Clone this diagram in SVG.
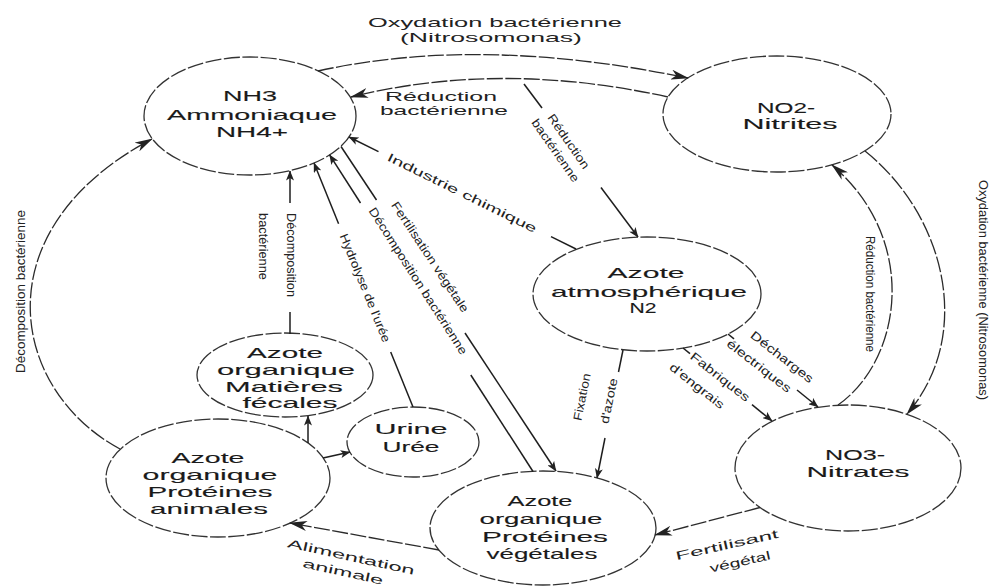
<svg xmlns="http://www.w3.org/2000/svg" width="993" height="586" viewBox="0 0 993 586">
<style>
.nd{fill:#fff;stroke:#333;stroke-width:1.3;stroke-dasharray:16 2.5}
.cv{fill:none;stroke:#2b2b2b;stroke-width:1.3;stroke-dasharray:16 2.5}
.ln{fill:none;stroke:#1e1e1e;stroke-width:1.5}
.nt{font-family:"Liberation Sans",Arial,sans-serif;font-size:15px;fill:#1a1a1a;text-anchor:middle;stroke:#1a1a1a;stroke-width:0.12}
.lb{font-family:"Liberation Sans",Arial,sans-serif;font-size:12px;fill:#222;text-anchor:middle}
.lt{font-family:"Liberation Sans",Arial,sans-serif;font-size:13px;fill:#222;text-anchor:middle}
.ls{font-family:"Liberation Sans",Arial,sans-serif;font-size:12px;fill:#222;text-anchor:start}
</style>
<defs>
<marker id="big" viewBox="0 0 18 10" refX="17" refY="5" markerWidth="18" markerHeight="10" orient="auto" markerUnits="userSpaceOnUse"><path d="M0,0 L18,5 L0,10 L5,5 z" fill="#222"/></marker>
<marker id="sm" viewBox="0 0 10 8" refX="9.5" refY="4" markerWidth="10" markerHeight="8" orient="auto" markerUnits="userSpaceOnUse"><path d="M0,0 L10,4 L0,8 L2.5,4 z" fill="#222"/></marker>
</defs>
<rect width="993" height="586" fill="#fff"/>

<g id="nodes">
<g id="n-nh3"><ellipse class="nd" cx="250" cy="116" rx="106" ry="59"/>
<text class="nt" x="250" y="101" textLength="54" lengthAdjust="spacingAndGlyphs">NH3</text>
<text class="nt" x="252" y="120" textLength="170" lengthAdjust="spacingAndGlyphs">Ammoniaque</text>
<text class="nt" x="252" y="137" textLength="72" lengthAdjust="spacingAndGlyphs">NH4+</text></g>
<g id="n-no2"><ellipse class="nd" cx="777" cy="114" rx="114" ry="58"/>
<text class="nt" x="786" y="113" textLength="58" lengthAdjust="spacingAndGlyphs">NO2-</text>
<text class="nt" x="790" y="129" textLength="95" lengthAdjust="spacingAndGlyphs">Nitrites</text></g>
<g id="n-n2"><ellipse class="nd" cx="647" cy="294" rx="114" ry="57"/>
<text class="nt" x="646" y="278" textLength="77" lengthAdjust="spacingAndGlyphs">Azote</text>
<text class="nt" x="649" y="297" textLength="196" lengthAdjust="spacingAndGlyphs">atmosphérique</text>
<text class="nt" x="643" y="313" textLength="27" lengthAdjust="spacingAndGlyphs">N2</text></g>
<g id="n-no3"><ellipse class="nd" cx="848" cy="468" rx="113" ry="63"/>
<text class="nt" x="855" y="460" textLength="60" lengthAdjust="spacingAndGlyphs">NO3-</text>
<text class="nt" x="858" y="477" textLength="103" lengthAdjust="spacingAndGlyphs">Nitrates</text></g>
<g id="n-veg"><ellipse class="nd" cx="543" cy="528" rx="113" ry="57"/>
<text class="nt" x="540" y="506" textLength="65" lengthAdjust="spacingAndGlyphs">Azote</text>
<text class="nt" x="541" y="524" textLength="123" lengthAdjust="spacingAndGlyphs">organique</text>
<text class="nt" x="545" y="542" textLength="126" lengthAdjust="spacingAndGlyphs">Protéines</text>
<text class="nt" x="542" y="559" textLength="111" lengthAdjust="spacingAndGlyphs">végétales</text></g>
<g id="n-ani"><ellipse class="nd" cx="218" cy="478" rx="112" ry="59"/>
<text class="nt" x="208" y="463" textLength="73" lengthAdjust="spacingAndGlyphs">Azote</text>
<text class="nt" x="210" y="480" textLength="135" lengthAdjust="spacingAndGlyphs">organique</text>
<text class="nt" x="210" y="497" textLength="125" lengthAdjust="spacingAndGlyphs">Protéines</text>
<text class="nt" x="209" y="514" textLength="118" lengthAdjust="spacingAndGlyphs">animales</text></g>
<g id="n-fec"><ellipse class="nd" cx="285" cy="375" rx="88" ry="42"/>
<text class="nt" x="285" y="358" textLength="76" lengthAdjust="spacingAndGlyphs">Azote</text>
<text class="nt" x="286" y="375" textLength="138" lengthAdjust="spacingAndGlyphs">organique</text>
<text class="nt" x="284" y="392" textLength="118" lengthAdjust="spacingAndGlyphs">Matières</text>
<text class="nt" x="290" y="408" textLength="95" lengthAdjust="spacingAndGlyphs">fécales</text></g>
<g id="n-uri"><ellipse class="nd" cx="413" cy="442" rx="66" ry="35"/>
<text class="nt" x="411" y="434" textLength="73" lengthAdjust="spacingAndGlyphs">Urine</text>
<text class="nt" x="411" y="452" textLength="57" lengthAdjust="spacingAndGlyphs">Urée</text></g>
</g>

<g id="connectors">
<path id="c-ox-top" class="cv" d="M318,71 Q480,35 688,78" marker-end="url(#big)"/>
<path id="c-red-top" class="cv" d="M668,97 Q500,60 351,97" marker-end="url(#big)"/>
<g id="c-red-diag"><line class="ln" x1="524" y1="84" x2="542" y2="108"/><line class="ln" x1="601" y1="187.5" x2="638" y2="237" marker-end="url(#sm)"/></g>
<g id="c-industrie"><line class="ln" x1="576" y1="249" x2="551" y2="236.7"/><line class="ln" x1="378.5" y1="151.6" x2="349" y2="137" marker-end="url(#sm)"/></g>
<g id="c-decomp-fec"><line class="ln" x1="290" y1="334" x2="290" y2="312"/><line class="ln" x1="290" y1="203" x2="290" y2="171" marker-end="url(#sm)"/></g>
<g id="c-hydrolyse"><line class="ln" x1="413" y1="407" x2="390.7" y2="352"/><line class="ln" x1="338.6" y1="223.8" x2="314" y2="163" marker-end="url(#sm)"/></g>
<g id="c-fertil-veg"><line class="ln" x1="341" y1="146.5" x2="376.5" y2="200"/><line class="ln" x1="465" y1="333" x2="556" y2="471" marker-end="url(#sm)"/></g>
<g id="c-decomp-veg"><line class="ln" x1="533" y1="471.5" x2="470.8" y2="375"/><line class="ln" x1="360.5" y1="203" x2="329.6" y2="154.8" marker-end="url(#sm)"/></g>
<g id="c-fixation"><line class="ln" x1="623" y1="350" x2="618.5" y2="372"/><line class="ln" x1="605" y1="438" x2="597" y2="478" marker-end="url(#sm)"/></g>
<g id="c-fabriques"><line class="ln" x1="683" y1="348" x2="690" y2="353.7"/><line class="ln" x1="752" y1="404.6" x2="772" y2="421" marker-end="url(#sm)"/></g>
<g id="c-decharges"><line class="ln" x1="728" y1="334" x2="734" y2="338.9"/><line class="ln" x1="797" y1="390" x2="818" y2="407" marker-end="url(#sm)"/></g>
<line id="c-fertilisant" class="cv" x1="760" y1="507.5" x2="655" y2="535" marker-end="url(#big)"/>
<line id="c-alimentation" class="cv" x1="439" y1="550" x2="290" y2="523" marker-end="url(#big)"/>
<path id="c-ox-right" class="cv" d="M865,151 C945,215 975,335 907,414" marker-end="url(#big)"/>
<path id="c-red-right" class="cv" d="M838,405 C902,360 920,240 832,165" marker-end="url(#big)"/>
<path id="c-decomp-left" class="cv" d="M120,449 C10,390 -20,230 152,139" marker-end="url(#big)"/>
<line id="c-ani-fec" class="ln" x1="308" y1="443" x2="308" y2="416" marker-end="url(#sm)"/>
<line id="c-ani-uri" class="ln" x1="323" y1="458" x2="350" y2="452" marker-end="url(#sm)"/>
</g>

<g id="connector-labels">
<text class="lt" x="495" y="27" textLength="254" lengthAdjust="spacingAndGlyphs">Oxydation bactérienne</text>
<text class="lt" x="491" y="42" textLength="182" lengthAdjust="spacingAndGlyphs">(Nitrosomonas)</text>
<text class="lt" x="441" y="101" textLength="112" lengthAdjust="spacingAndGlyphs">Réduction</text>
<text class="lt" x="444" y="115" textLength="128" lengthAdjust="spacingAndGlyphs">bactérienne</text>
<g transform="translate(562,146) rotate(55)"><text class="lb" x="0" y="-4" textLength="64" lengthAdjust="spacingAndGlyphs">Réduction</text><text class="lb" x="0" y="12" textLength="74" lengthAdjust="spacingAndGlyphs">bactérienne</text></g>
<text class="lb" transform="translate(462,193) rotate(26.3)" x="0" y="4" textLength="165" lengthAdjust="spacingAndGlyphs">Industrie chimique</text>
<text class="ls" transform="translate(287,213) rotate(90)" x="0" y="0" textLength="84" lengthAdjust="spacingAndGlyphs">Décomposition</text>
<text class="ls" transform="translate(259,213) rotate(90)" x="0" y="0" textLength="67" lengthAdjust="spacingAndGlyphs">bactérienne</text>
<text class="lb" transform="translate(365,288) rotate(67.9)" x="0" y="4" textLength="116" lengthAdjust="spacingAndGlyphs">Hydrolyse de l'urée</text>
<text class="lb" transform="translate(430,257) rotate(56.5)" x="0" y="4" textLength="130" lengthAdjust="spacingAndGlyphs">Fertilisation végétale</text>
<text class="lb" transform="translate(418,281) rotate(57.3)" x="0" y="4" textLength="172" lengthAdjust="spacingAndGlyphs">Décomposition bactérienne</text>
<text class="lb" transform="translate(582,397) rotate(-78.5)" x="0" y="4" textLength="48" lengthAdjust="spacingAndGlyphs">Fixation</text>
<text class="lb" transform="translate(609,401) rotate(-78.5)" x="0" y="4" textLength="46" lengthAdjust="spacingAndGlyphs">d'azote</text>
<text class="lb" transform="translate(720,377) rotate(38)" x="0" y="4" textLength="72" lengthAdjust="spacingAndGlyphs">Fabriques</text>
<text class="lb" transform="translate(697,386) rotate(38)" x="0" y="4" textLength="66" lengthAdjust="spacingAndGlyphs">d'engrais</text>
<text class="lb" transform="translate(782,357) rotate(38)" x="0" y="4" textLength="76" lengthAdjust="spacingAndGlyphs">Décharges</text>
<text class="lb" transform="translate(759,366) rotate(38)" x="0" y="4" textLength="78" lengthAdjust="spacingAndGlyphs">électriques</text>
<text class="lb" transform="translate(727,545) rotate(-12.5)" x="0" y="4" textLength="105" lengthAdjust="spacingAndGlyphs">Fertilisant</text>
<text class="lb" transform="translate(740,562) rotate(-12.5)" x="0" y="4" textLength="62" lengthAdjust="spacingAndGlyphs">végétal</text>
<text class="lb" transform="translate(351,557) rotate(12.4)" x="0" y="4" textLength="130" lengthAdjust="spacingAndGlyphs">Alimentation</text>
<text class="lb" transform="translate(343,572) rotate(12.4)" x="0" y="4" textLength="82" lengthAdjust="spacingAndGlyphs">animale</text>
<text class="ls" style="font-size:13px" transform="translate(25,373) rotate(-90)" x="0" y="0" textLength="163" lengthAdjust="spacingAndGlyphs">Décomposition bactérienne</text>
<text class="ls" style="font-size:13px" transform="translate(979,180) rotate(90)" x="0" y="0" textLength="220" lengthAdjust="spacingAndGlyphs">Oxydation bactérienne (Nitrosomonas)</text>
<text class="ls" transform="translate(866,236) rotate(90)" x="0" y="0" textLength="116" lengthAdjust="spacingAndGlyphs">Réduction bactérienne</text>
</g>
</svg>
